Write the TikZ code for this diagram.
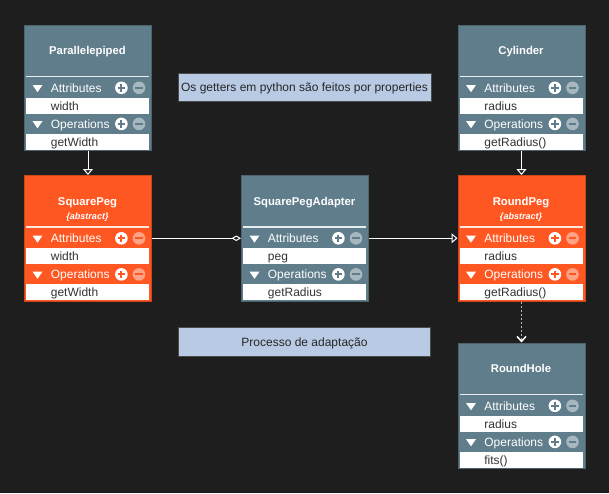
\documentclass[tikz,border=0pt]{standalone}
\usepackage{fontspec}
\setmainfont{Liberation Sans}
\usepackage{xcolor}
\usetikzlibrary{arrows.meta}

\definecolor{bgc}{HTML}{1E1E1E}
\definecolor{slate}{HTML}{607D8B}
\definecolor{deeporange}{HTML}{FF5722}
\definecolor{notefill}{HTML}{B9CBE4}
\definecolor{notedraw}{HTML}{4A4A4A}
\definecolor{rowfont}{HTML}{333333}
\definecolor{dotline}{HTML}{BBBBBB}

\newcommand{\umlclass}[7]{%
  \node [classbox, fill=#2, draw=#2!80!black, anchor=north west] (#1) at (#3) {};
  \begin{scope}[shift={(#1.north west)}]
    \node [titletext] (#1-title) at (63.5,26.3) {#4};
    \node [subtext] (#1-sub) at (63.5,41.3) {#5};
    \draw [white!85!#2, line width=1.5pt] (2.4,52) -- (125,52);
    \foreach \hy/\hname/\ry/\rtext in {63.3/Attributes/81.4/#6, 99.4/Operations/117.2/#7} {
      \fill [white] (8.5,\hy-2.8) -- (18.5,\hy-2.8) -- (13.5,\hy+4.4) -- cycle;
      \node [hdrtext] (#1-\hname) at (26.7,\hy) {\hname};
      \fill [white] (97.4,\hy) circle (6.3);
      \draw [#2, line width=2pt] (93.6,\hy) -- (101.2,\hy) (97.4,\hy-3.8) -- (97.4,\hy+3.8);
      \fill [white, opacity=0.45] (115,\hy) circle (6.3);
      \draw [#2, line width=2pt] (111.2,\hy) -- (118.8,\hy);
      \fill [white] (2.4,\ry-8) rectangle (125,\ry+8);
      \node [rowtext] (#1-\hname-row) at (26.7,\ry) {\rtext};
    }
  \end{scope}
}

\begin{document}
\begin{tikzpicture}[x=1pt,y=-1pt]
\tikzstyle{every node}+=[inner sep=0pt]
\tikzstyle{classbox}=[rectangle, minimum width=127pt, minimum height=125.5pt, line width=1pt]
\tikzstyle{titletext}=[white, font=\fontsize{11.3}{13}\selectfont\bfseries, text height=8.1pt, text depth=0pt]
\tikzstyle{subtext}=[white, font=\fontsize{9}{11}\selectfont\bfseries\itshape, text height=6.4pt, text depth=0pt]
\tikzstyle{hdrtext}=[white, anchor=west, font=\fontsize{12}{14}\selectfont, text height=8.6pt, text depth=0pt]
\tikzstyle{rowtext}=[rowfont, anchor=west, font=\fontsize{12}{14}\selectfont, text height=8.6pt, text depth=0pt]
\tikzstyle{note}=[rectangle, fill=notefill, draw=notedraw, line width=1pt, text=black!85, font=\fontsize{12}{14}\selectfont, text height=8.6pt, text depth=0pt]
\tikzstyle{inherit}=[white, line width=1pt, -{Triangle[length=6pt,width=10pt,fill=bgc]}]
\tikzstyle{aggreg}=[white, line width=1pt, -{Diamond[length=9.5pt,width=5.5pt,fill=bgc]}]
\tikzstyle{depend}=[dotline, line width=1pt, dash pattern=on 2pt off 2pt, -{Straight Barb[length=5pt,width=9pt,color=white,line width=1.5pt]}]
\fill [bgc] (0,0) rectangle (609,493);
\useasboundingbox (0,0) rectangle (609,493);

\umlclass{para}{slate}{24,24.5}{Parallelepiped}{}{width}{getWidth}
\umlclass{cyl}{slate}{457.5,24.5}{Cylinder}{}{radius}{getRadius()}
\umlclass{sqpeg}{deeporange}{24,175}{SquarePeg}{\{abstract\}}{width}{getWidth}
\umlclass{adapter}{slate}{241,175}{SquarePegAdapter}{}{peg}{getRadius}
\umlclass{rpeg}{deeporange}{457.5,175}{RoundPeg}{\{abstract\}}{radius}{getRadius()}
\umlclass{rhole}{slate}{457.5,342.5}{RoundHole}{}{radius}{fits()}

\node [note, minimum width=253pt, minimum height=28.4pt] (getters) at (304.5,87.5) {Os getters em python são feitos por properties};
\node [note, minimum width=252pt, minimum height=28.4pt] (process) at (304.5,342) {Processo de adaptação};

\draw [inherit] (para.south) -- (sqpeg.north);
\draw [inherit] (cyl.south) -- (rpeg.north);
\draw [aggreg] (sqpeg.east) -- (adapter.west);
\draw [inherit] (adapter.east) -- (rpeg.west);
\draw [depend] (rpeg.south) -- (rhole.north);
\end{tikzpicture}
\end{document}
